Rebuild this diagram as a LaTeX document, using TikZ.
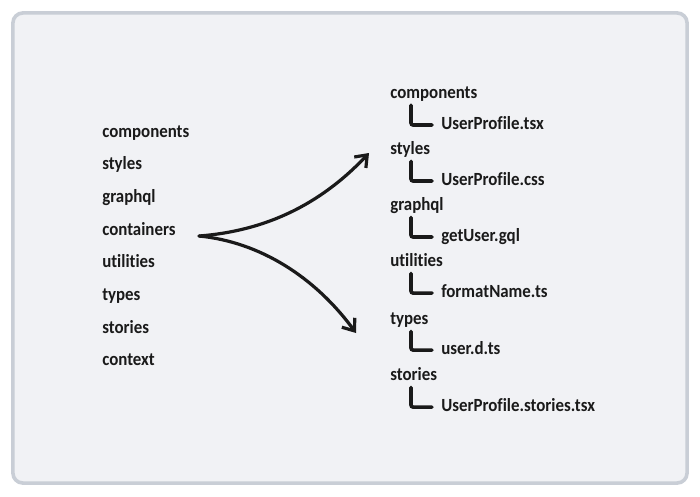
\documentclass[tikz,border=0pt]{standalone}
\usepackage{fontspec}
\setmainfont{Carlito}[FakeStretch=0.91,Ligatures=NoCommon]
\usetikzlibrary{arrows.meta}
\definecolor{panelfill}{HTML}{F1F2F5}
\definecolor{paneldraw}{HTML}{C9CED6}
\definecolor{inkblack}{HTML}{1A1A1A}
\tikzset{%
  >={Straight Barb[width=4mm,length=2.6mm,line width=0.08cm]},
  % Specifications for style of nodes:
            base/.style = {rectangle, inner sep=0pt, text=inkblack, text width=5cm, align=left,
                           text height=0.475cm, text depth=0.175cm, font=\bfseries\fontsize{13.2}{15}\selectfont},
  panel/.style = {rectangle, rounded corners=0.25cm, draw=paneldraw, line width=0.09cm, fill=panelfill,
                  minimum width=16.85cm, minimum height=11.75cm},
  elbow/.style = {draw=inkblack, line width=0.09cm, line cap=round, rounded corners=1.5pt},
  fan/.style = {->, draw=inkblack, line width=0.08cm, line cap=round},
}
\begin{document}
\begin{tikzpicture}[x=0.025cm, y=-0.025cm]

  \useasboundingbox (0,0) rectangle (700,496);
  \node (onPanel) [panel] at (350,248) {};

  % Specification of nodes (position, etc.)
  \begin{scope}[node distance=0.8175cm]
  \node (onComponents) [base, anchor=west] at (102,131) {components};
  \node (onStyles)     [base, below of=onComponents]    {styles};
  \node (onGraphql)    [base, below of=onStyles]        {graphql};
  \node (onContainers) [base, below of=onGraphql]       {containers};
  \node (onUtilities)  [base, below of=onContainers]    {utilities};
  \node (onTypes)      [base, below of=onUtilities]     {types};
  \node (onStories)    [base, below of=onTypes]         {stories};
  \node (onContext)    [base, below of=onStories]       {context};
  \end{scope}

  \begin{scope}[node distance=0.7cm]
  \node (toComponents) [base, anchor=west] at (390,92) {components};
  \node (toTsx)       [base, below of=toComponents, xshift=1.275cm, yshift=-0.075cm] {UserProfile.tsx};
  \node (toStyles)    [base, below of=toTsx, xshift=-1.275cm, yshift=0.075cm]        {styles};
  \node (toCss)       [base, below of=toStyles, xshift=1.275cm, yshift=-0.075cm]     {UserProfile.css};
  \node (toGraphql)   [base, below of=toCss, xshift=-1.275cm, yshift=0.075cm]        {graphql};
  \node (toGql)       [base, below of=toGraphql, xshift=1.275cm, yshift=-0.075cm]    {getUser.gql};
  \node (toUtilities) [base, below of=toGql, xshift=-1.275cm, yshift=0.075cm]        {utilities};
  \node (toName)      [base, below of=toUtilities, xshift=1.275cm, yshift=-0.075cm]  {formatName.ts};
  \node (toTypes)     [base, below of=toName, xshift=-1.275cm, yshift=0.025cm]       {types};
  \node (toUser)      [base, below of=toTypes, xshift=1.275cm, yshift=-0.05cm]       {user.d.ts};
  \node (toStories)   [base, below of=toUser, xshift=-1.275cm, yshift=0.05cm]        {stories};
  \node (toStoriesTsx) [base, below of=toStories, xshift=1.275cm, yshift=-0.075cm]   {UserProfile.stories.tsx};
  \end{scope}

  % Specification of lines between nodes specified above
  \draw[elbow] ([xshift=0.525cm]toComponents.south west) |- ([xshift=-0.225cm,yshift=-0.05cm]toTsx.west);
  \draw[elbow] ([xshift=0.525cm]toStyles.south west)     |- ([xshift=-0.225cm,yshift=-0.05cm]toCss.west);
  \draw[elbow] ([xshift=0.525cm]toGraphql.south west)    |- ([xshift=-0.225cm,yshift=-0.05cm]toGql.west);
  \draw[elbow] ([xshift=0.525cm]toUtilities.south west)  |- ([xshift=-0.225cm,yshift=-0.05cm]toName.west);
  \draw[elbow] ([xshift=0.525cm]toTypes.south west)      |- ([xshift=-0.225cm,yshift=-0.05cm]toUser.west);
  \draw[elbow] ([xshift=0.525cm]toStories.south west)    |- ([xshift=-0.225cm,yshift=-0.05cm]toStoriesTsx.west);

  \coordinate (fanStart) at (199,236);
  \coordinate (fanUp)    at (369,153);
  \coordinate (fanDown)  at (356,333);
  \draw[fan] (fanStart) .. controls (265,231) and (320,205) .. (fanUp);
  \draw[fan] (fanStart) .. controls (260,242) and (315,277) .. (fanDown);
\end{tikzpicture}
\end{document}
